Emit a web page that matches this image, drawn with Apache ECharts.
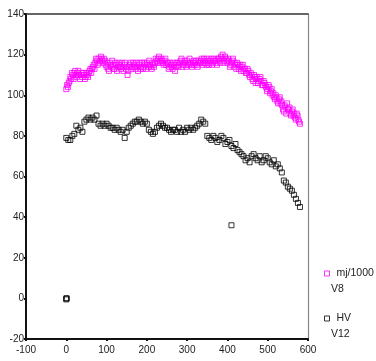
<!DOCTYPE html>
<html>
<head>
<meta charset="utf-8">
<script src="https://cdn.jsdelivr.net/npm/echarts@6/dist/echarts.min.js"></script>
<style>
html,body{margin:0;padding:0;background:#fff;}
#chart{width:376px;height:361px;}
</style>
</head>
<body>
<div id="chart"></div>
<script>
const xTicks = [-100, 0, 100, 200, 300, 400, 500, 600];
const yTicks = [-20, 0, 20, 40, 60, 80, 100, 120, 140];
const seriesNames = ['mj/1000', 'HV'];
const seriesSub = ['V8', 'V12'];
const seriesColors = ['#ff00ff', '#000000'];

const mjData = [
[0,103],[4,104],[8,107],[12,108],[16,110],[20,111],[24,110],[28,111],[32,110],[36,110],
[40,109],[44,110],[48,109],[52,110],[56,111],[60,113],[64,113],[68,115],[72,116],[76,117],
[80,118],[84,117],[88,118],[92,116],[96,117],[100,114],[104,113],[108,116],[112,114],[116,115],
[120,113],[124,115],[128,114],[132,115],[136,113],[140,114],[144,115],[148,113],[152,110],[156,114],
[160,116],[164,114],[168,115],[172,113],[176,114],[180,115],[184,113],[188,116],[192,114],[196,115],
[200,116],[204,114],[208,115],[212,113],[216,115],[220,116],[224,117],[228,118],[232,117],[236,118],
[240,116],[244,117],[248,115],[252,116],[256,114],[260,115],[264,113],[268,115],[272,114],[276,116],
[280,115],[284,117],[288,114],[292,116],[296,115],[300,117],[304,115],[308,116],[312,114],[316,117],
[320,116],[324,115],[328,117],[332,116],[336,118],[340,116],[344,117],[348,115],[352,117],[356,116],
[360,118],[364,116],[368,117],[372,116],[376,118],[380,117],[384,119],[388,120],[392,117],[396,118],
[400,116],[404,117],[408,115],[412,117],[416,114],[420,115],[424,116],[428,113],[432,115],[436,114],
[440,112],[444,113],[448,111],[452,112],[456,109],[460,110],[464,107],[468,109],[472,108],[476,106],
[480,108],[484,107],[488,105],[492,106],[496,104],[500,103],[504,104],[508,102],[512,100],[516,99],
[520,100],[524,97],[528,98],[532,96],[536,95],[540,92],[544,94],[548,96],[552,93],[556,91],
[560,92],[564,90],[568,89],[572,91],[576,88],[580,86]
];

const mjExtra = [
[2,105],[6,106],[10,109],[14,111],[18,108],[22,112],[26,109],[30,112],[34,108],[38,111],
[42,111],[46,108],[50,111],[54,109],[58,112],[62,111],[66,114],[70,113],[74,118],[78,115],
[82,116],[86,119],[90,117],[94,118],[98,115],[102,116],[106,112],[110,115],[114,117],[118,113],
[122,116],[126,112],[130,116],[134,114],[138,116],[142,112],[146,116],[150,114],[154,112],[158,115],
[162,113],[166,116],[170,114],[174,116],[178,112],[182,116],[186,114],[190,113],[194,116],[198,113],
[202,115],[206,117],[210,114],[214,116],[218,114],[222,118],[226,116],[230,119],[234,116],[238,117],
[242,115],[246,118],[250,116],[254,113],[258,116],[262,114],[266,116],[270,112],[274,116],[278,114],
[282,116],[286,118],[290,115],[294,117],[298,114],[302,116],[306,118],[310,115],[314,116],[318,115],
[322,117],[326,114],[330,116],[334,117],[338,115],[342,118],[346,116],[350,118],[354,115],[358,117],
[362,115],[366,118],[370,117],[374,115],[378,118],[382,116],[386,118],[390,116],[394,119],[398,117],
[402,118],[406,114],[410,116],[414,118],[418,116],[422,113],[426,115],[430,114],[434,112],[438,115],
[442,113],[446,111],[450,113],[454,110],[458,111],[462,108],[466,110],[470,106],[474,109],[478,107],
[482,109],[486,105],[490,107],[494,105],[498,102],[502,105],[506,101],[510,103],[514,101],[518,98],
[522,99],[526,96],[530,99],[534,97],[538,93],[542,95],[546,91],[550,93],[554,94],[558,90],
[562,93],[566,91],[570,88],[574,90],[578,87]
];

const hvData = [
[0,79],[5,78],[10,78],[15,80],[20,81],[25,85],[30,83],[35,84],[40,82],[45,87],
[50,88],[55,89],[60,88],[65,89],[70,88],[75,90],[80,86],[85,85],[90,86],[95,85],
[100,86],[105,85],[110,84],[115,84],[120,83],[125,84],[130,83],[135,82],[140,83],[145,79],
[150,82],[155,84],[160,85],[165,86],[170,87],[175,87],[180,88],[185,87],[190,86],[195,87],
[200,86],[205,83],[210,82],[215,81],[220,82],[225,84],[230,85],[235,86],[240,85],[245,84],
[250,84],[255,83],[260,82],[265,83],[270,83],[275,82],[280,84],[285,82],[290,83],[295,82],
[300,84],[305,83],[310,84],[315,83],[320,84],[325,85],[330,86],[335,88],[340,87],[345,86],
[350,80],[355,79],[360,78],[365,80],[370,79],[375,77],[380,78],[385,80],[390,79],[395,76],
[400,77],[405,78],[410,75],[415,74],[420,76],[425,73],[430,72],[435,71],[440,70],[445,68],
[450,69],[455,67],[460,70],[465,71],[470,69],[475,68],[480,70],[485,67],[490,68],[495,70],
[500,69],[505,67],[510,66],[515,68],[520,65],[525,66],[530,64],[535,62],[540,58],[545,57],
[550,55],[555,54],[560,53],[565,51],[570,49],[575,47],[580,45],
[410,36],[0,0],[1,0],[0,-0.5]
];

const chart = echarts.init(document.getElementById('chart'));
const FONT = 'Liberation Sans, Arial, sans-serif';
const TXT = '#222';

function axisBase(min, max, interval) {
  return { type: 'value', min: min, max: max, interval: interval, splitLine: { show: false } };
}

chart.setOption({
  animation: false,
  backgroundColor: '#fff',
  textStyle: { fontFamily: FONT },
  grid: { left: 26, right: 68, top: 14, bottom: 22 },
  xAxis: [
    Object.assign(axisBase(xTicks[0], xTicks[xTicks.length - 1], xTicks[1] - xTicks[0]), {
      position: 'bottom',
      axisLine: { onZero: false, lineStyle: { color: '#111', width: 2 } },
      axisTick: { show: true, length: 2, lineStyle: { color: '#111', width: 2 } },
      axisLabel: { fontSize: 10, color: TXT, margin: 6, fontFamily: FONT }
    }),
    Object.assign(axisBase(xTicks[0], xTicks[xTicks.length - 1], xTicks[1] - xTicks[0]), {
      position: 'top',
      axisLine: { onZero: false, lineStyle: { color: '#333', width: 1.5 } },
      axisTick: { show: false }, axisLabel: { show: false }
    })
  ],
  yAxis: [
    Object.assign(axisBase(yTicks[0], yTicks[yTicks.length - 1], yTicks[1] - yTicks[0]), {
      position: 'left',
      axisLine: { show: true, onZero: false, lineStyle: { color: '#111', width: 2 } },
      axisTick: { show: true, length: 2, lineStyle: { color: '#111', width: 2 } },
      axisLabel: { fontSize: 10, color: TXT, margin: 2, fontFamily: FONT }
    }),
    Object.assign(axisBase(yTicks[0], yTicks[yTicks.length - 1], yTicks[1] - yTicks[0]), {
      position: 'right',
      axisLine: { show: true, onZero: false, lineStyle: { color: '#888', width: 1.2 } },
      axisTick: { show: false }, axisLabel: { show: false }
    })
  ],
  legend: {
    orient: 'vertical',
    left: 319,
    top: 263,
    itemWidth: 5,
    itemHeight: 5,
    itemGap: 34,
    textStyle: { fontSize: 10.5, color: TXT, fontFamily: FONT, padding: [2, 0, 0, 2] },
    data: seriesNames.map(function (n, i) {
      return { name: n, icon: 'rect', itemStyle: { color: 'rgba(0,0,0,0)', borderColor: seriesColors[i], borderWidth: 1 } };
    })
  },
  graphic: [
    { type: 'text', left: 331, top: 284, style: { text: seriesSub[0], fontSize: 10.5, fill: TXT, fontFamily: FONT } },
    { type: 'text', left: 331, top: 329, style: { text: seriesSub[1], fontSize: 10.5, fill: TXT, fontFamily: FONT } }
  ],
  series: [
    {
      name: seriesNames[0], type: 'scatter', symbol: 'rect', symbolSize: 5,
      itemStyle: { color: 'rgba(0,0,0,0)', borderColor: seriesColors[0], borderWidth: 1 },
      data: mjData.concat(mjExtra)
    },
    {
      name: seriesNames[1], type: 'scatter', symbol: 'rect', symbolSize: 5,
      itemStyle: { color: 'rgba(0,0,0,0)', borderColor: seriesColors[1], borderWidth: 1 },
      data: hvData
    }
  ]
});
</script>
</body>
</html>
